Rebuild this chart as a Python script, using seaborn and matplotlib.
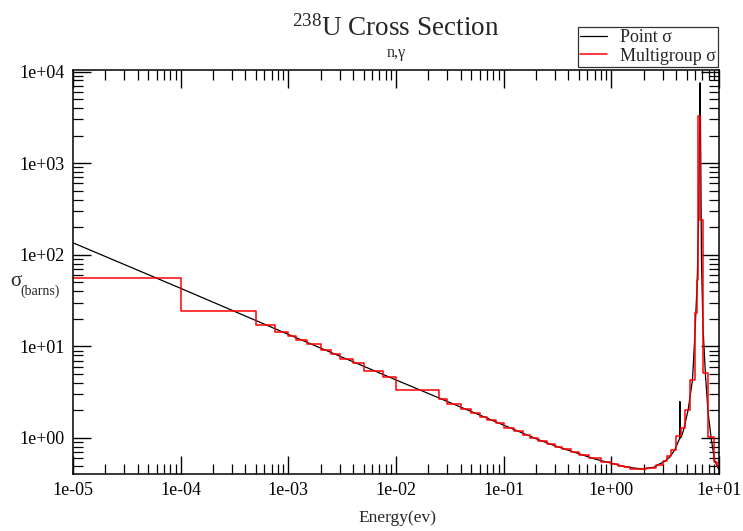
import numpy as np
import pandas as pd
import matplotlib
matplotlib.use("Agg")
import matplotlib.pyplot as plt
from matplotlib.ticker import FuncFormatter, LogLocator
import seaborn as sns

# ---- Point cross section (black) ----
point_energy = [1e-5, 1e-4, 1e-3, 1e-2, 1e-1, 0.2, 0.3, 0.45, 0.7, 1.0, 1.3, 1.6,
                2.0, 2.5, 2.8, 3.1, 3.5, 3.9, 4.2, 4.31, 4.32, 4.34, 4.35, 4.45,
                4.64, 5.17, 5.67, 5.96, 6.27, 6.45, 6.55, 6.62, 6.67, 6.72, 6.77,
                6.87, 7.1, 7.5, 7.93, 8.5, 9.1, 9.76, 10.0]
point_sigma = [135, 43, 13.5, 4.3, 1.38, 0.98, 0.82, 0.70, 0.59, 0.53, 0.49, 0.47,
               0.458, 0.48, 0.52, 0.55, 0.62, 0.75, 0.92, 0.98, 2.5, 2.5, 1.0, 1.02,
               1.17, 2.02, 4.3, 12.8, 49, 205, 1100, 3000, 7540, 3000, 1100,
               88, 16, 4.7, 1.86, 0.95, 0.575, 0.47, 0.45]

# ---- Multigroup cross section (red): group lower bounds, last entry = top bound ----
group_bounds = [1e-5, 1e-4, 5e-4, 7.5e-4, 1e-3, 1.17e-3, 1.5e-3, 2e-3, 2.5e-3, 3e-3,
                4e-3, 5e-3, 7.5e-3, 1e-2, 2.53e-2, 3e-2, 4e-2, 5e-2, 6e-2, 7e-2,
                8.5e-2, 0.1, 0.125, 0.15, 0.175, 0.21, 0.25, 0.3, 0.35, 0.42, 0.5,
                0.625, 0.8, 1.0, 1.15, 1.3, 1.5, 2.1, 2.6, 3.0, 3.3, 3.6, 3.97,
                4.42, 4.81, 5.35, 5.96, 6.26, 6.45, 6.73, 7.03, 7.93, 8.95, 9.48, 10.0]
group_sigma = [55.6, 24.6, 17.2, 14.5, 13.0, 11.8, 10.6, 9.16, 8.28, 7.3,
               6.55, 5.44, 4.68, 3.32, 2.65, 2.36, 2.06, 1.86, 1.71, 1.57,
               1.45, 1.30, 1.18, 1.09, 1.00, 0.93, 0.86, 0.80, 0.75, 0.70, 0.65,
               0.60, 0.55, 0.52, 0.50, 0.48, 0.46, 0.47, 0.51, 0.56, 0.63, 0.74,
               1.05, 1.3, 2.0, 4.3, 23, 53, 3240, 240, 5.1, 1.03, 0.55, 0.50]

x_ticks = [1e-5, 1e-4, 1e-3, 1e-2, 1e-1, 1e0, 1e1]
y_ticks = [1e0, 1e1, 1e2, 1e3, 1e4]

sns.set_theme(style="ticks")
plt.rcParams["font.family"] = ["Liberation Serif", "DejaVu Serif"]
plt.rcParams["mathtext.fontset"] = "custom"
plt.rcParams["mathtext.rm"] = "Liberation Serif"

df_point = pd.DataFrame({"E": point_energy, "sigma": point_sigma})
df_group = pd.DataFrame({"E": group_bounds,
                         "sigma": group_sigma + [group_sigma[-1]]})

fig = plt.figure(figsize=(7.43, 5.31), dpi=100)
ax = fig.add_axes([73 / 743, 1 - 474 / 531, (719 - 73) / 743, (474 - 70) / 531])

sns.lineplot(data=df_point, x="E", y="sigma", ax=ax, color="black", lw=0.9,
             estimator=None, sort=False, label="Point σ")
sns.lineplot(data=df_group, x="E", y="sigma", ax=ax, color="#ff0000", lw=1.1,
             estimator=None, sort=False, drawstyle="steps-post",
             label="Multigroup σ")

ax.set_xscale("log")
ax.set_yscale("log")
ax.set_xlim(1e-5, 10)
ax.set_ylim(0.404, 1.04e4)
ax.set_xticks(x_ticks)
ax.set_yticks(y_ticks)
ax.xaxis.set_minor_locator(LogLocator(base=10, subs=np.arange(2, 10), numticks=100))
ax.yaxis.set_minor_locator(LogLocator(base=10, subs=np.arange(2, 10), numticks=100))
fmt = FuncFormatter(lambda v, p: f"{v:.0e}")
ax.xaxis.set_major_formatter(fmt)
ax.yaxis.set_major_formatter(fmt)
ax.tick_params(which="both", direction="in", top=True, right=True, colors="black",
               labelsize=13)
ax.tick_params(which="major", length=13, width=1.0, pad=6)
ax.tick_params(which="minor", length=7, width=0.9)
for s in ax.spines.values():
    s.set_color("black")
    s.set_linewidth(1.1)
ax.set_xlabel("")
ax.set_ylabel("")

# Titles and axis labels
fig.text(396 / 743, 1 - 28 / 531, r"$\mathregular{^{238}}$U Cross Section",
         ha="center", va="center", fontsize=19.5)
fig.text(396 / 743, 1 - 53 / 531, "n,γ", ha="center", va="center", fontsize=11.5)
fig.text(397 / 743, 1 - 518 / 531, "Energy(ev)", ha="center", va="center",
         fontsize=12.5)
fig.text(10 / 743, 1 - 281 / 531, "σ", ha="left", va="center", fontsize=15)
fig.text(20 / 743, 1 - 291 / 531, "(barns)", ha="left", va="center", fontsize=10)

ax.get_legend().remove()
h, l = ax.get_legend_handles_labels()
leg = fig.legend(h, l, loc="upper right", bbox_to_anchor=(718 / 743, 1 - 27 / 531),
                 fontsize=13, frameon=True, fancybox=False, shadow=False,
                 handlelength=1.5, handletextpad=0.7, borderpad=0.12,
                 labelspacing=0.08, borderaxespad=0)
leg.get_frame().set_edgecolor("black")
leg.get_frame().set_linewidth(0.9)

fig.savefig("out.png", dpi=100)
